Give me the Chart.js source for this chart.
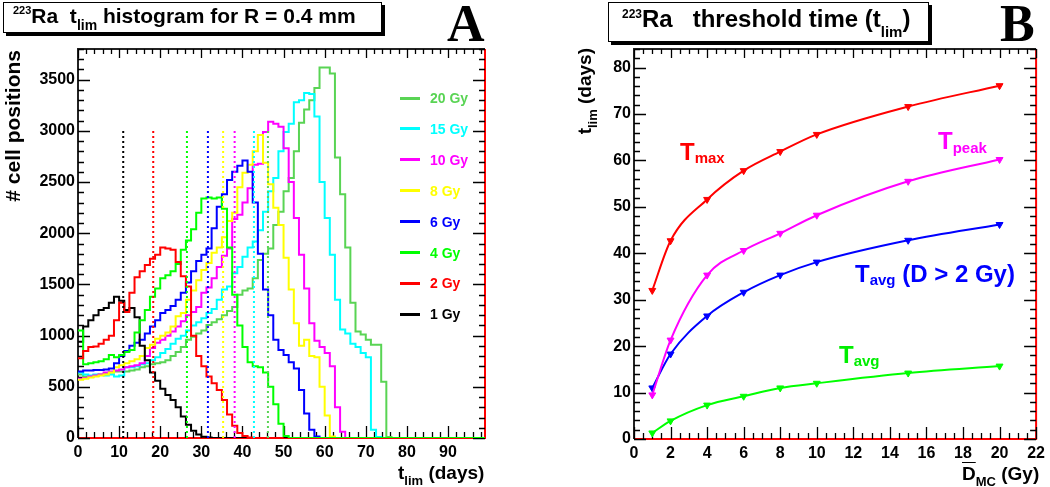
<!DOCTYPE html>
<html><head><meta charset="utf-8">
<script src="https://cdn.jsdelivr.net/npm/chart.js@4.4.1/dist/chart.umd.min.js"></script>
<style>
html,body{margin:0;padding:0;background:#fff;}
body{width:1050px;height:487px;position:relative;overflow:hidden;font-family:"Liberation Sans",Arial,Helvetica,sans-serif;font-weight:bold;color:#000;}
canvas{position:absolute;top:0;}
#cA{left:0;} #cB{left:525px;}
.t{position:absolute;white-space:pre;line-height:1;}
.tbox{position:absolute;box-sizing:border-box;border:1.5px solid #000;box-shadow:3px 3px 0 #000;background:#fff;}
.rot{position:absolute;transform-origin:0 0;transform:rotate(-90deg);line-height:1;white-space:pre;text-align:right;width:300px;}
.big{position:absolute;font-family:"Liberation Serif","Times New Roman",serif;font-weight:bold;font-size:52px;line-height:1;}
.leg{position:absolute;height:0;}
.leg .ln{position:absolute;left:0;width:20px;height:3px;top:-1.5px;}
.leg .tx{position:absolute;left:30px;top:-7px;font-size:14px;line-height:1;white-space:pre;}
</style>
</head><body>
<canvas id="cA" width="525" height="487"></canvas>
<canvas id="cB" width="525" height="487"></canvas>

<!-- Panel A title -->
<div class="tbox" style="left:3px;top:2px;width:379px;height:31px;"></div>
<div class="t" style="left:13px;top:5px;font-size:21px;"><span style="font-size:11px;position:relative;top:-9px;">223</span>Ra  t<span style="font-size:14px;position:relative;top:7px;">lim</span> histogram for R = 0.4 mm</div>
<div class="big" style="left:447px;top:-2px;">A</div>

<!-- Panel B title -->
<div class="tbox" style="left:608px;top:2px;width:321px;height:40px;"></div>
<div class="t" style="left:622px;top:7px;font-size:24px;"><span style="font-size:12px;position:relative;top:-9px;">223</span>Ra   threshold time (t<span style="font-size:15px;position:relative;top:10px;">lim</span>)</div>
<div class="big" style="left:1000px;top:-2px;">B</div>

<!-- Axis titles A -->
<div class="rot" style="left:2px;top:350px;font-size:21px;"># cell positions</div>
<div class="t" style="left:398px;top:463px;font-size:19px;">t<span style="font-size:13px;position:relative;top:6px;">lim</span> (days)</div>

<!-- Axis titles B -->
<div class="rot" style="left:575px;top:348px;font-size:19px;">t<span style="font-size:13px;position:relative;top:6px;">lim</span> (days)</div>
<div class="t" style="left:962px;top:464px;font-size:19px;"><span style="text-decoration:overline;">D</span><span style="font-size:13px;position:relative;top:6px;">MC</span> (Gy)</div>

<!-- Panel B curve labels -->
<div class="t" style="left:680px;top:140px;font-size:24px;color:#ff0000;">T<span style="font-size:15px;position:relative;top:3px;">max</span></div>
<div class="t" style="left:938px;top:129px;font-size:24px;color:#ff00ff;">T<span style="font-size:15px;position:relative;top:4px;">peak</span></div>
<div class="t" style="left:855px;top:262px;font-size:24px;color:#0000ff;">T<span style="font-size:15px;position:relative;top:3px;">avg</span> (D &gt; 2 Gy)</div>
<div class="t" style="left:839px;top:343px;font-size:24px;color:#00ee00;">T<span style="font-size:15px;position:relative;top:3px;">avg</span></div>

<div id="legendA"></div>

<script>
// ---------------- DATA ----------------
// Panel A: histograms of t_lim, 1.25-day bins starting at 0 days
const binWidth = 1.25;
const doseLabels = ['1 Gy', '2 Gy', '4 Gy', '6 Gy', '8 Gy', '10 Gy', '15 Gy', '20 Gy'];
const h1Gy  = [940, 1090, 1150, 1200, 1250, 1270, 1320, 1380, 1340, 1250, 1270, 1180, 900, 760, 640, 560, 480, 420, 370, 300, 210, 130, 70, 35, 12, 4, 0];
const h2Gy  = [780, 850, 890, 895, 920, 960, 1000, 1150, 1320, 1230, 1420, 1570, 1630, 1690, 1750, 1790, 1860, 1850, 1840, 1720, 1580, 1480, 1000, 800, 700, 600, 535, 470, 370, 230, 120, 50, 20, 5, 0];
const h4Gy  = [1050, 720, 730, 740, 750, 770, 810, 790, 810, 840, 860, 1030, 1150, 1250, 1380, 1460, 1560, 1590, 1630, 1700, 1840, 1930, 2040, 2200, 2340, 2350, 2340, 2350, 2240, 1860, 1400, 1100, 890, 740, 700, 690, 640, 500, 330, 140, 20, 0];
const h6Gy  = [650, 660, 660, 665, 665, 670, 680, 730, 800, 850, 900, 930, 960, 1020, 1090, 1150, 1220, 1250, 1290, 1350, 1420, 1520, 1630, 1730, 1790, 1850, 2050, 2260, 2380, 2520, 2600, 2660, 2710, 2600, 2300, 1800, 1450, 1200, 960, 860, 810, 740, 680, 470, 240, 80, 15, 0];
const h8Gy  = [570, 580, 590, 600, 610, 620, 640, 690, 710, 730, 750, 770, 800, 880, 910, 970, 1000, 1030, 1090, 1190, 1220, 1350, 1440, 1540, 1640, 1710, 1810, 1860, 1960, 2120, 2200, 2450, 2590, 2670, 2800, 2960, 2690, 2480, 2250, 2080, 1760, 1450, 1120, 900, 960, 800, 790, 500, 220, 15, 0];
const h10Gy = [580, 585, 600, 610, 620, 640, 650, 660, 670, 690, 700, 710, 730, 800, 880, 930, 960, 1000, 1040, 1090, 1140, 1200, 1230, 1280, 1420, 1470, 1560, 1670, 1780, 1850, 2140, 2180, 2300, 2440, 2670, 2680, 2990, 3090, 3070, 3040, 2830, 2500, 2150, 1790, 1460, 1120, 950, 890, 830, 700, 300, 60, 0];
const h15Gy = [640, 620, 610, 620, 615, 610, 620, 600, 610, 690, 690, 700, 720, 730, 760, 790, 830, 870, 920, 970, 1000, 1050, 1100, 1130, 1170, 1220, 1260, 1350, 1450, 1480, 1610, 1670, 1770, 1860, 1920, 2030, 2210, 2410, 2540, 2800, 2990, 3070, 3280, 3300, 3370, 3360, 3140, 2500, 2150, 1790, 1350, 1060, 1020, 920, 890, 830, 790, 80, 10, 0];
const h20Gy = [620, 600, 600, 610, 620, 630, 640, 650, 650, 650, 660, 670, 690, 700, 720, 730, 740, 760, 800, 840, 890, 960, 990, 1020, 1050, 1105, 1130, 1160, 1200, 1240, 1280, 1400, 1440, 1460, 1560, 1740, 1800, 1850, 2080, 2210, 2410, 2540, 2800, 3080, 3210, 3300, 3420, 3620, 3620, 3560, 2740, 2380, 1860, 1320, 1040, 1010, 960, 910, 910, 550, 10, 0];
const markerHeight = 3000; // height of the dotted T_avg markers
const xTicksA = [0, 10, 20, 30, 40, 50, 60, 70, 80, 90];
const yTicksA = [0, 500, 1000, 1500, 2000, 2500, 3000, 3500];

// Panel B: threshold times vs mean dose
const doses     = [1, 2, 4, 6, 8, 10, 15, 20];
const tMax      = [32, 42.7, 51.6, 57.8, 61.9, 65.6, 71.6, 76.1];
const tPeak     = [9.5, 21.3, 35.3, 40.6, 44.3, 48.2, 55.5, 60.2];
const tAvgHigh  = [11, 18.3, 26.5, 31.6, 35.3, 38.1, 42.8, 46.2];
const tAvg      = [1.3, 3.9, 7.3, 9.2, 11, 12, 14.2, 15.7];
const xTicksB = [0, 2, 4, 6, 8, 10, 12, 14, 16, 18, 20, 22];
const yTicksB = [0, 10, 20, 30, 40, 50, 60, 70, 80];

// ---------------- STYLE ----------------
const histColors = ['#000000', '#ff0000', '#00ff00', '#0000ff', '#ffff00', '#ff00ff', '#00ffff', '#59d454'];
const histEnds = [99, 50, 99, 99, 99, 99, 99, 99];
const FONT = '"Liberation Sans", Arial, Helvetica, sans-serif';

const rootFrame = {
  id: 'rootFrame',
  beforeDatasetsDraw(chart, args, o) {
    const {ctx, chartArea: a} = chart;
    const xs = chart.scales.x, ys = chart.scales.y;
    ctx.save();
    ctx.lineWidth = 2;
    ctx.strokeStyle = '#222';
    ctx.beginPath(); ctx.moveTo(a.left, a.bottom); ctx.lineTo(a.left, a.top); ctx.lineTo(a.right, a.top); ctx.stroke();
    ctx.strokeStyle = '#ff0000';
    ctx.beginPath(); ctx.moveTo(a.right, a.top); ctx.lineTo(a.right, a.bottom); ctx.lineTo(a.left, a.bottom); ctx.stroke();
    ctx.lineWidth = 1.3; ctx.strokeStyle = '#000';
    ctx.beginPath();
    const isMaj = (v, m) => Math.abs(v / m - Math.round(v / m)) < 1e-6;
    const nx = Math.floor((xs.max - xs.min) / o.xMinor + 1e-6);
    for (let i = 0; i <= nx; i++) {
      const v = xs.min + i * o.xMinor;
      const p = Math.round(xs.getPixelForValue(v)) + 0.5;
      const mj = isMaj(v, o.xMajor);
      ctx.moveTo(p, a.bottom); ctx.lineTo(p, a.bottom - (mj ? 12 : 6));
      ctx.moveTo(p, a.top); ctx.lineTo(p, a.top + (mj ? 9 : 5));
    }
    const ny = Math.floor((ys.max - ys.min) / o.yMinor + 1e-6);
    for (let i = 0; i <= ny; i++) {
      const v = ys.min + i * o.yMinor;
      const p = Math.round(ys.getPixelForValue(v)) + 0.5;
      const mj = isMaj(v, o.yMajor);
      ctx.moveTo(a.left, p); ctx.lineTo(a.left + (mj ? 12 : 6), p);
      ctx.moveTo(a.right, p); ctx.lineTo(a.right - (mj ? 12 : 6), p);
    }
    ctx.stroke();
    ctx.restore();
  }
};

function axis(min, max, tickList, fit, prop, padding) {
  return {
    type: 'linear', min, max,
    afterBuildTicks(s) { s.ticks = tickList.map(v => ({value: v})); },
    ticks: {
      padding, color: '#000', autoSkip: false, maxRotation: 0, minRotation: 0,
      font: {family: FONT, weight: 'bold', size: 16},
      callback: (v) => String(v)
    },
    grid: {display: false, drawTicks: false},
    border: {display: false},
    afterFit(s) { s[prop] = fit; }
  };
}

// ---------- Panel A ----------
const hists = [h1Gy, h2Gy, h4Gy, h6Gy, h8Gy, h10Gy, h15Gy, h20Gy];
function outline(vals, endX) {
  const pts = [];
  vals.forEach((v, i) => { pts.push({x: i * binWidth, y: v}); pts.push({x: (i + 1) * binWidth, y: v}); });
  pts.push({x: endX, y: 0});
  return pts;
}
const dsA = [];
tAvgHigh.forEach((t, i) => dsA.push({
  data: [{x: t, y: 0}, {x: t, y: markerHeight}],
  borderColor: histColors[i], borderWidth: 2, borderDash: [2, 3], pointRadius: 0, fill: false
}));
const histOrder = [1, 2, 0, 3, 4, 5, 6, 7]; // red on top, then bright green
histOrder.forEach(i => dsA.push({
  data: outline(hists[i], histEnds[i]),
  borderColor: histColors[i], borderWidth: 2, pointRadius: 0, fill: false, tension: 0
}));

new Chart(document.getElementById('cA'), {
  type: 'line',
  data: {datasets: dsA},
  options: {
    responsive: false, animation: false, events: [], devicePixelRatio: 1,
    layout: {padding: {top: 49, right: 40, left: 0, bottom: 0}},
    plugins: {legend: {display: false}, tooltip: {enabled: false},
      rootFrame: {xMajor: 10, xMinor: 2, yMajor: 500, yMinor: 100}},
    scales: {
      x: axis(0, 99, xTicksA, 49, 'height', 5),
      y: axis(0, 3800, yTicksA, 78, 'width', 3)
    }
  },
  plugins: [rootFrame]
});

// legend A (top: 20 Gy ... bottom: 1 Gy)
const legendA = document.getElementById('legendA');
for (let k = 0; k < doseLabels.length; k++) {
  const i = doseLabels.length - 1 - k;
  const d = document.createElement('div');
  d.className = 'leg';
  d.style.left = '400px';
  d.style.top = (98 + k * 30.9) + 'px';
  d.innerHTML = '<div class="ln" style="background:' + histColors[i] + '"></div><div class="tx" style="color:' + histColors[i] + '">' + doseLabels[i] + '</div>';
  legendA.appendChild(d);
}

// ---------- Panel B ----------
const seriesB = [tMax, tPeak, tAvgHigh, tAvg];
const colorsB = ['#ff0000', '#ff00ff', '#0000ff', '#00ff00'];
const dsB = seriesB.map((s, k) => ({
  data: doses.map((d, i) => ({x: d, y: s[i]})),
  borderColor: colorsB[k], backgroundColor: colorsB[k], borderWidth: 2,
  pointStyle: 'triangle', pointRotation: 180, pointRadius: 4,
  pointBackgroundColor: colorsB[k], pointBorderColor: colorsB[k], pointBorderWidth: 1,
  cubicInterpolationMode: 'monotone', fill: false
}));
new Chart(document.getElementById('cB'), {
  type: 'line',
  data: {datasets: dsB},
  options: {
    responsive: false, animation: false, events: [], devicePixelRatio: 1,
    layout: {padding: {top: 49, right: 10, left: 0, bottom: 0}},
    plugins: {legend: {display: false}, tooltip: {enabled: false},
      rootFrame: {xMajor: 2, xMinor: 0.5, yMajor: 10, yMinor: 2}},
    scales: {
      x: axis(0, 22, xTicksB, 48, 'height', 5),
      y: axis(0, 84, yTicksB, 109, 'width', 3)
    }
  },
  plugins: [rootFrame]
});
</script>
</body></html>
